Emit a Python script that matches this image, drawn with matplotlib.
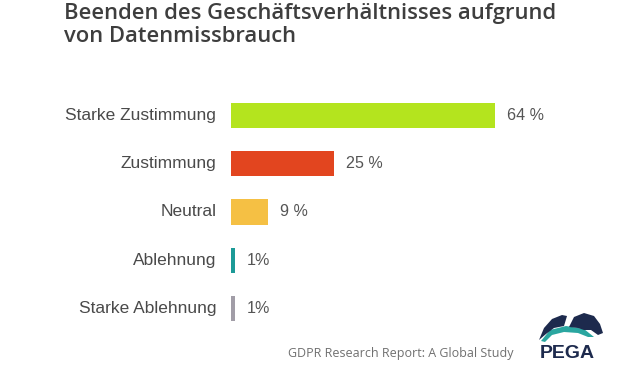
import matplotlib
matplotlib.use('Agg')
import matplotlib.pyplot as plt
from matplotlib.patches import Polygon

categories = ['Starke Zustimmung', 'Zustimmung', 'Neutral', 'Ablehnung', 'Starke Ablehnung']
values = [64, 25, 9, 1, 1]
labels = ['64 %', '25 %', '9 %', '1%', '1%']
colors = ['#b4e41e', '#e2451f', '#f5c044', '#1c9a97', '#a19da7']

title = 'Beenden des Geschäftsverhältnisses aufgrund\nvon Datenmissbrauch'
source = 'GDPR Research Report: A Global Study'

W, H = 620, 366
fig = plt.figure(figsize=(W / 100, H / 100), dpi=100)
fig.patch.set_facecolor('white')

# axes placed in pixel terms: bars start at x=231, 64 % ends near x=495
left, right = 231, 495
top, bottom = 91, 333
ax = fig.add_axes([left / W, 1 - bottom / H, (right - left) / W, (bottom - top) / H])
ax.set_xlim(0, 64)
ax.set_ylim(len(categories) - 0.5, -0.5)
ax.axis('off')

ypos = list(range(len(categories)))
ax.barh(ypos, values, height=0.52, color=colors, edgecolor='none')

for y, cat, v, lab in zip(ypos, categories, values, labels):
    ax.text(-3.6, y, cat, ha='right', va='center', fontsize=12.5,
            family='Liberation Sans', color='#4a4a4a', clip_on=False)
    ax.text(v + 2.9, y, lab, ha='left', va='center', fontsize=11.6,
            family='Liberation Sans', color='#555555', clip_on=False)

fig.text(64 / W, 1 - 3 / H, title, ha='left', va='top', fontsize=15.8,
         family='Open Sans', weight='semibold', color='#3e3e3e', linespacing=1.12)

fig.text(288 / W, 1 - 353 / H, source, ha='left', va='center', fontsize=9,
         family='Open Sans', color='#707070')

# PEGA logo, rough sketch
fig.text(567 / W, 1 - 354 / H, 'PEGA', ha='center', va='center', fontsize=14,
         family='Liberation Sans', weight='bold', color='#1d2a4d')


def px(pts):
    return [(x / W, 1 - y / H) for x, y in pts]


teal = Polygon(px([(541, 341), (550, 330), (566, 326), (584, 329), (594, 337),
                   (588, 337), (578, 333), (564, 332), (552, 335), (545, 342)]),
               closed=True, transform=fig.transFigure, color='#2aa6a0', lw=0)
navy = Polygon(px([(539, 340), (544, 328), (552, 319), (562, 315), (567, 316),
                   (564, 326), (554, 328), (546, 334)]),
               closed=True, transform=fig.transFigure, color='#1d2a4d', lw=0)
navy2 = Polygon(px([(569, 327), (574, 317), (584, 313), (594, 316), (600, 324),
                    (603, 333), (598, 335), (591, 330), (584, 330), (578, 328)]),
                closed=True, transform=fig.transFigure, color='#1d2a4d', lw=0)
for p in (teal, navy, navy2):
    fig.patches.append(p)

fig.savefig('out.png', dpi=100)
